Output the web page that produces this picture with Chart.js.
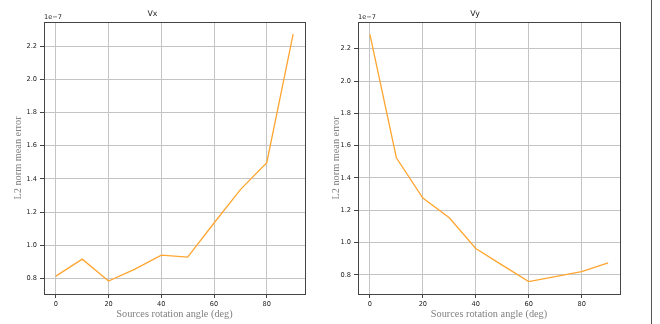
<!DOCTYPE html>
<html>
<head>
<meta charset="utf-8">
<script src="https://cdn.jsdelivr.net/npm/chart.js@4.4.1/dist/chart.umd.min.js"></script>
<style>
  body { margin: 0; background: #fff; }
  #wrap { position: relative; width: 660px; height: 324px; overflow: hidden; }
  canvas { position: absolute; top: 0; }
  #sep { position: absolute; left: 651px; top: 0; width: 1px; height: 324px; background: #555; }
</style>
</head>
<body>
<div id="wrap">
  <canvas id="vxChart" width="330" height="324" style="left:0"></canvas>
  <canvas id="vyChart" width="330" height="324" style="left:330px"></canvas>
  <div id="sep"></div>
</div>
<script>
// rotation angle of the sources (deg)
var angles = [0, 10, 20, 30, 40, 50, 60, 70, 80, 90];
// L2 norm mean error, in units of 1e-7
var vxError = [0.814, 0.916, 0.784, 0.856, 0.940, 0.928, 1.134, 1.335, 1.498, 2.272];
var vyError = [2.289, 1.525, 1.275, 1.153, 0.963, 0.860, 0.758, 0.789, 0.819, 0.874];

var xTicks = [0, 20, 40, 60, 80];
var yTicks = [0.8, 1.0, 1.2, 1.4, 1.6, 1.8, 2.0, 2.2];
var offsetText = '1e\u22127';

Chart.defaults.font.family = 'DejaVu Sans';
Chart.defaults.color = '#222';

var framePlugin = {
    id: 'frame',
    afterDatasetsDraw: function(chart) {
        var a = chart.chartArea;
        var ctx = chart.ctx;
        ctx.save();
        ctx.strokeStyle = '#444';
        ctx.lineWidth = 1;
        ctx.strokeRect(Math.round(a.left) + 0.5, Math.round(a.top) + 0.5,
            Math.round(a.right - a.left), Math.round(a.bottom - a.top));
        ctx.fillStyle = '#222';
        ctx.font = '6.6px "DejaVu Sans"';
        ctx.textAlign = 'left';
        ctx.textBaseline = 'alphabetic';
        ctx.fillText(offsetText, a.left, a.top - 3);
        ctx.restore();
    }
};

function makeChart(el, title, values, yMin, yMax, pad, yWidth, yTitlePad) {
    return new Chart(document.getElementById(el), {
        type: 'line',
        data: {
            datasets: [{
                data: angles.map(function(a, i) { return {x: a, y: values[i]}; }),
                borderColor: '#ffa530',
                borderWidth: 1.3,
                pointRadius: 0,
                tension: 0
            }]
        },
        options: {
            responsive: false,
            animation: false,
            devicePixelRatio: 1,
            layout: { padding: { left: 0, right: pad, top: 0, bottom: 0 } },
            plugins: {
                legend: { display: false },
                tooltip: { enabled: false },
                title: {
                    display: true,
                    text: title,
                    color: '#222',
                    font: { size: 7.8, weight: 'normal' },
                    padding: { top: 9, bottom: 3.6 }
                }
            },
            scales: {
                x: {
                    type: 'linear',
                    min: -4.5,
                    max: 94.5,
                    afterBuildTicks: function(s) { s.ticks = xTicks.map(function(v) { return {value: v}; }); },
                    afterFit: function(s) { s.height = 30; },
                    ticks: { font: { size: 6.6 }, padding: 2, maxRotation: 0 },
                    grid: { color: '#c4c4c4', tickColor: '#444', tickLength: 4 },
                    border: { display: false },
                    title: {
                        display: true,
                        text: 'Sources rotation angle (deg)',
                        color: '#808080',
                        font: { family: 'Liberation Serif', size: 10.3 },
                        padding: { top: 0, bottom: 4 }
                    }
                },
                y: {
                    type: 'linear',
                    min: yMin,
                    max: yMax,
                    afterBuildTicks: function(s) { s.ticks = yTicks.map(function(v) { return {value: v}; }); },
                    afterFit: function(s) { s.width = yWidth; },
                    ticks: { font: { size: 6.6 }, padding: 3, callback: function(v) { return v.toFixed(1); } },
                    grid: { color: '#c4c4c4', tickColor: '#444', tickLength: 4 },
                    border: { display: false },
                    title: {
                        display: true,
                        text: 'L2 norm mean error',
                        color: '#808080',
                        font: { family: 'Liberation Serif', size: 10.3 },
                        padding: { top: yTitlePad, bottom: 0 }
                    }
                }
            }
        },
        plugins: [framePlugin]
    });
}

var vxChart = makeChart('vxChart', 'Vx', vxError, 0.706, 2.346, 25, 44, 12);
var vyChart = makeChart('vyChart', 'Vy', vyError, 0.681, 2.366, 40, 28, 0);
</script>
</body>
</html>
